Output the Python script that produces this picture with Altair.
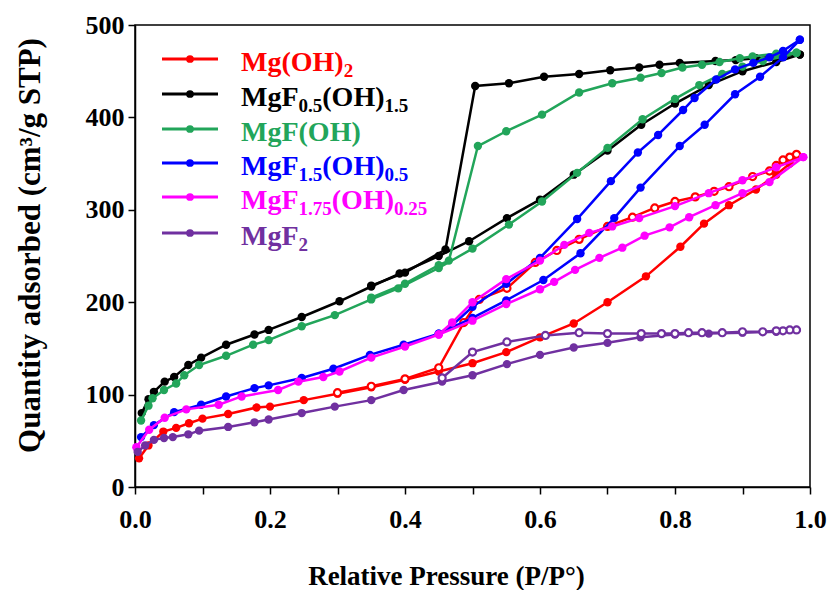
import altair as alt
import pandas as pd

# ---------------- data ----------------
names = ["Mg(OH)2", "MgF0.5(OH)1.5", "MgF(OH)", "MgF1.5(OH)0.5", "MgF1.75(OH)0.25", "MgF2"]
colors = ["#FF0000", "#000000", "#22A55A", "#0000FF", "#FF00FF", "#7030A0"]

# Mg(OH)2
red_ads_P = [0.006, 0.02, 0.042, 0.061, 0.08, 0.10, 0.138, 0.18, 0.20, 0.25, 0.30, 0.35, 0.40, 0.45,
             0.50, 0.55, 0.60, 0.65, 0.70, 0.757, 0.808, 0.843, 0.88, 0.92, 0.95, 0.97, 0.98]
red_ads_V = [31, 45, 60, 64, 69, 74, 79, 86, 87, 94, 101, 108, 116, 125,
             134, 146, 162, 177, 200, 228, 260, 285, 305, 322, 338, 350, 358]
red_des_P = [0.98, 0.97, 0.96, 0.95, 0.94, 0.915, 0.88, 0.858, 0.83, 0.80, 0.77, 0.737, 0.70, 0.658,
             0.625, 0.593, 0.551, 0.51, 0.487, 0.45, 0.40, 0.35, 0.30]
red_des_V = [360, 357, 354, 348, 342, 336, 325, 320, 314, 309, 302, 292, 282, 268,
             256, 243, 215, 203, 178, 129, 117, 109, 102]

# MgF0.5(OH)1.5
blk_ads_P = [0.01, 0.02, 0.028, 0.044, 0.058, 0.079, 0.098, 0.135, 0.177, 0.198, 0.247, 0.303, 0.35,
             0.392, 0.45, 0.495, 0.551, 0.60, 0.65, 0.70, 0.75, 0.80, 0.85, 0.90, 0.95, 0.985]
blk_ads_V = [80, 95, 103, 114, 119, 132, 140, 154, 165, 170, 184, 201, 217,
             231, 250, 266, 291, 311, 338, 364, 392, 415, 435, 450, 460, 468]
blk_des_P = [0.985, 0.95, 0.92, 0.89, 0.86, 0.807, 0.777, 0.747, 0.704, 0.658, 0.606, 0.554, 0.504,
             0.46, 0.40, 0.35]
blk_des_V = [468, 466, 464, 462, 461, 459, 457, 454, 451, 447, 444, 437, 434,
             257, 232, 218]

# MgF(OH)
grn_ads_P = [0.009, 0.02, 0.026, 0.043, 0.061, 0.073, 0.095, 0.135, 0.175, 0.198, 0.247, 0.296, 0.35,
             0.39, 0.45, 0.50, 0.554, 0.603, 0.655, 0.70, 0.752, 0.80, 0.836, 0.87, 0.90, 0.93, 0.96, 0.98]
grn_ads_V = [72, 88, 96, 105, 112, 121, 132, 142, 154, 159, 174, 186, 203,
             215, 237, 258, 284, 309, 340, 367, 398, 420, 435, 447, 455, 461, 466, 470]
grn_des_P = [0.98, 0.95, 0.915, 0.896, 0.866, 0.84, 0.811, 0.78, 0.749, 0.707, 0.658, 0.603, 0.55,
             0.508, 0.465, 0.45, 0.40, 0.35]
grn_des_V = [470, 469, 466, 464, 460, 457, 454, 448, 443, 437, 427, 403, 385,
             369, 245, 240, 220, 205]

# MgF1.5(OH)0.5
blu_ads_P = [0.009, 0.028, 0.058, 0.098, 0.135, 0.177, 0.198, 0.247, 0.294, 0.348, 0.398, 0.45, 0.50,
             0.55, 0.605, 0.66, 0.71, 0.749, 0.807, 0.844, 0.889, 0.926, 0.96, 0.985]
blu_ads_V = [54, 67, 81, 89, 98, 107, 110, 118, 128, 143, 154, 166, 183,
             202, 224, 253, 291, 324, 369, 392, 425, 444, 465, 484]
blu_des_P = [0.985, 0.96, 0.94, 0.916, 0.889, 0.861, 0.829, 0.812, 0.775, 0.745, 0.705, 0.655, 0.60,
             0.55, 0.50, 0.47, 0.45]
blu_des_V = [484, 472, 465, 459, 452, 441, 421, 408, 381, 362, 331, 290, 248,
             220, 195, 175, 166]

# MgF1.75(OH)0.25
mag_ads_P = [0.002, 0.021, 0.044, 0.076, 0.124, 0.158, 0.212, 0.242, 0.279, 0.303, 0.35, 0.40, 0.45,
             0.50, 0.55, 0.60, 0.621, 0.652, 0.688, 0.722, 0.755, 0.792, 0.821, 0.86, 0.90, 0.94, 0.99]
mag_ads_V = [43, 62, 75, 84, 89, 98, 105, 114, 119, 125, 140, 152, 165,
             180, 198, 214, 222, 235, 248, 259, 272, 281, 292, 305, 318, 330, 357]
mag_des_P = [0.99, 0.95, 0.90, 0.85, 0.80, 0.747, 0.707, 0.673, 0.636, 0.60, 0.55, 0.50, 0.47, 0.45]
mag_des_V = [357, 346, 332, 318, 304, 291, 282, 275, 262, 245, 225, 200, 178, 165]

# MgF2
pur_ads_P = [0.004, 0.015, 0.028, 0.043, 0.056, 0.079, 0.095, 0.138, 0.177, 0.198, 0.247, 0.296, 0.35,
             0.398, 0.455, 0.50, 0.551, 0.60, 0.65, 0.70, 0.749, 0.80, 0.85, 0.90, 0.95, 0.98]
pur_ads_V = [38, 45, 51, 53, 54, 57, 61, 65, 70, 73, 80, 87, 94,
             105, 114, 121, 133, 143, 151, 156, 162, 165, 166, 167, 168, 170]
pur_des_P = [0.98, 0.97, 0.96, 0.95, 0.93, 0.90, 0.87, 0.84, 0.82, 0.80, 0.78, 0.75, 0.70, 0.658,
             0.608, 0.551, 0.50, 0.455]
pur_des_V = [170, 170, 169, 169, 168, 168, 167, 167, 167, 166, 166, 166, 166, 167,
             164, 157, 146, 118]

x_ticks = [0.0, 0.1, 0.2, 0.3, 0.4, 0.5, 0.6, 0.7, 0.8, 0.9, 1.0]
y_ticks = [0, 100, 200, 300, 400, 500]

# legend label pieces: (text, is_subscript)
legend_pieces = [
    [("Mg(OH)", 0), ("2", 1)],
    [("MgF", 0), ("0.5", 1), ("(OH)", 0), ("1.5", 1)],
    [("MgF(OH)", 0)],
    [("MgF", 0), ("1.5", 1), ("(OH)", 0), ("0.5", 1)],
    [("MgF", 0), ("1.75", 1), ("(OH)", 0), ("0.25", 1)],
    [("MgF", 0), ("2", 1)],
]

# ---------------- layout ----------------
W, H = 675, 462
FONT = "Liberation Serif"
X_MAX, Y_MAX = 1.0, 500.0

xs = alt.Scale(domain=[0, X_MAX], nice=False, zero=False)
ys = alt.Scale(domain=[0, Y_MAX], nice=False)

x_axis = alt.Axis(
    values=x_ticks,
    labelExpr="(round(datum.value*10) % 2 == 0) ? format(datum.value, '.1f') : ''",
    grid=False, tickSize=7, tickWidth=1.5, tickColor="black",
    domainColor="black", domainWidth=1.5,
    labelFont=FONT, labelFontWeight="bold", labelFontSize=26, labelColor="black",
    labelPadding=12, labelFlush=False,
    title="Relative Pressure (P/P°)", titleFont=FONT, titleFontSize=27,
    titleFontWeight="bold", titleColor="black",
    titleX=311, titleY=89, titleAlign="center", titleBaseline="middle", titleAngle=0,
)
y_axis = alt.Axis(
    values=y_ticks, format="d",
    grid=False, tickSize=7, tickWidth=1.5, tickColor="black",
    domainColor="black", domainWidth=1.5,
    labelFont=FONT, labelFontWeight="bold", labelFontSize=26, labelColor="black",
    labelPadding=4,
    title="Quantity adsorbed (cm³/g STP)", titleFont=FONT, titleFontSize=31,
    titleFontWeight="bold", titleColor="black",
    titleX=-105, titleY=220, titleAlign="center", titleBaseline="middle", titleAngle=270,
)

series = [
    (red_ads_P, red_ads_V, red_des_P, red_des_V, True),
    (blk_ads_P, blk_ads_V, blk_des_P, blk_des_V, False),
    (grn_ads_P, grn_ads_V, grn_des_P, grn_des_V, False),
    (blu_ads_P, blu_ads_V, blu_des_P, blu_des_V, False),
    (mag_ads_P, mag_ads_V, mag_des_P, mag_des_V, False),
    (pur_ads_P, pur_ads_V, pur_des_P, pur_des_V, True),
]

layers = []
for (aP, aV, dP, dV, hollow), color in zip(series, colors):
    for P, V, is_des in ((aP, aV, False), (dP, dV, True)):
        df = pd.DataFrame({"P": P, "V": V, "i": list(range(len(P)))})
        enc = dict(
            x=alt.X("P:Q", scale=xs, axis=x_axis),
            y=alt.Y("V:Q", scale=ys, axis=y_axis),
            order=alt.Order("i:Q"),
        )
        layers.append(alt.Chart(df).mark_line(color=color, strokeWidth=2.5).encode(**enc))
        if is_des and hollow:
            pts = alt.Chart(df).mark_point(shape="circle", filled=False, fill="white", fillOpacity=1,
                                           color=color, strokeWidth=2.2, size=50, opacity=1)
        else:
            pts = alt.Chart(df).mark_point(shape="circle", filled=True, color=color, size=70, opacity=1)
        layers.append(pts.encode(x=alt.X("P:Q", scale=xs), y=alt.Y("V:Q", scale=ys)))

# ---------------- manual legend (pixel layout converted to data units) ----------------
TNR_BOLD = {"M": 944, "g": 500, "F": 611, "(": 333, ")": 333, "O": 778, "H": 778, ".": 250}
def text_w(s, fs):
    return sum(TNR_BOLD.get(ch, 500) for ch in s) / 1000.0 * fs

MAIN_FS, SUB_FS = 28, 19
row_y = [34, 69, 104, 138, 172, 208]      # legend line rows (px from plot top)
line_x0, line_x1, mark_x, text_x0 = 27, 83, 55, 106

def px2P(px):
    return px / W * X_MAX
def py2V(py):
    return (1 - py / H) * Y_MAX

leg_lines, leg_text = [], []
for k, (pieces, color) in enumerate(zip(legend_pieces, colors)):
    ly = row_y[k]
    leg_lines.append({"x0": px2P(line_x0), "x1": px2P(line_x1), "xm": px2P(mark_x),
                      "y": py2V(ly), "c": color})
    cx = text_x0
    base = ly + 12
    for txt, sub in pieces:
        fs = SUB_FS if sub else MAIN_FS
        by = base + (6 if sub else 0)
        leg_text.append({"x": px2P(cx), "y": py2V(by), "t": txt, "fs": fs, "c": color})
        cx += text_w(txt, fs)

ll = pd.DataFrame(leg_lines)
lt = pd.DataFrame(leg_text)

layers.append(alt.Chart(ll).mark_rule(strokeWidth=3).encode(
    x=alt.X("x0:Q", scale=xs), x2="x1:Q", y=alt.Y("y:Q", scale=ys),
    color=alt.Color("c:N", scale=None)))
layers.append(alt.Chart(ll).mark_point(shape="circle", filled=True, size=60, opacity=1).encode(
    x=alt.X("xm:Q", scale=xs), y=alt.Y("y:Q", scale=ys),
    color=alt.Color("c:N", scale=None)))
layers.append(alt.Chart(lt).mark_text(align="left", baseline="alphabetic", font=FONT,
                                      fontWeight="bold").encode(
    x=alt.X("x:Q", scale=xs), y=alt.Y("y:Q", scale=ys), text="t:N",
    size=alt.Size("fs:Q", scale=None), color=alt.Color("c:N", scale=None)))

chart = alt.layer(*layers).properties(
    width=W, height=H,
    autosize=alt.AutoSizeParams(type="none"),
    padding={"left": 127, "top": 17, "right": 17, "bottom": 103},
    background="white",
).configure_view(stroke="black", strokeWidth=1.5)

chart.save("out.html", embed_options={"renderer": "svg", "actions": False})
